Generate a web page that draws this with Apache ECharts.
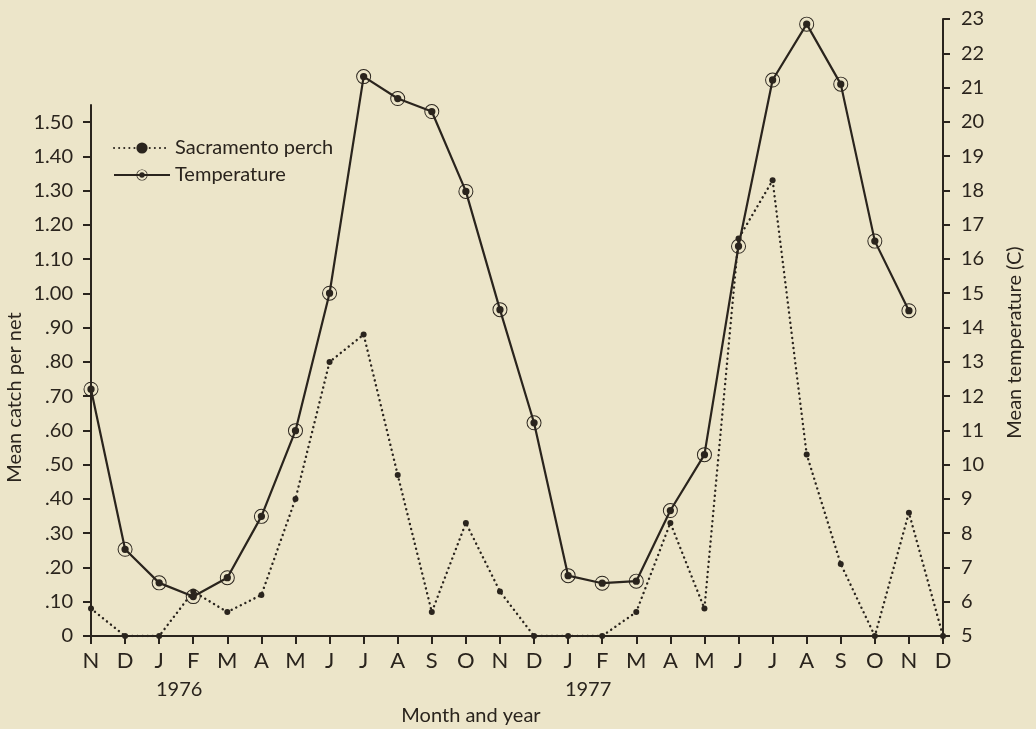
<!DOCTYPE html>
<html>
<head>
<meta charset="utf-8">
<title>Sacramento perch catch and water temperature</title>
<script src="https://cdn.jsdelivr.net/npm/echarts@6/dist/echarts.min.js"></script>
<style>
  html, body { margin: 0; padding: 0; background: #ece5c9; }
  #chart { width: 1036px; height: 729px; }
</style>
</head>
<body>
<div id="chart"></div>
<script>
// Months from November 1975 to December 1977
const months = ['N','D','J','F','M','A','M','J','J','A','S','O','N','D',
                'J','F','M','A','M','J','J','A','S','O','N','D'];
// Index of each January and the year it starts
const yearStarts = { 2: '1976', 14: '1977' };

// Mean catch per net, Sacramento perch
const perchCatch = [0.08, 0, 0, 0.13, 0.07, 0.12, 0.40, 0.80, 0.88, 0.47, 0.07, 0.33, 0.13,
                    0, 0, 0, 0.07, 0.33, 0.08, 1.16, 1.33, 0.53, 0.21, 0, 0.36, 0];

// Mean water temperature (C)
const meanTemp = [12.2, 7.53, 6.55, 6.15, 6.7, 8.49, 10.99, 15.0, 21.32, 20.68, 20.3, 17.97, 14.52,
                  11.22, 6.76, 6.54, 6.6, 8.66, 10.29, 16.37, 21.22, 22.85, 21.1, 16.52, 14.49, null];

const ink = '#2a241d';
const font = 'Lato';

// Circled dot: thin ring around a solid centre
const ringDot = 'path://M0,-7A7,7 0 1,1 0,7A7,7 0 1,1 0,-7Z' +
                'M0,-6.1A6.1,6.1 0 1,0 0,6.1A6.1,6.1 0 1,0 0,-6.1Z' +
                'M0,-3.4A3.4,3.4 0 1,1 0,3.4A3.4,3.4 0 1,1 0,-3.4Z';

const chart = echarts.init(document.getElementById('chart'));

chart.setOption({
  backgroundColor: '#ece5c9',
  textStyle: { fontFamily: font, color: ink },
  animation: false,
  legend: {
    orient: 'vertical',
    left: 108,
    top: 133,
    itemWidth: 56,
    itemHeight: 14,
    itemGap: 7,
    textStyle: { fontFamily: font, fontSize: 20, color: ink },
    data: ['Sacramento perch', 'Temperature']
  },
  grid: [
    { left: 91, right: 93, top: 19, bottom: 93, containLabel: false, outerBoundsMode: 'none' },
    { left: 91, right: 93, top: 105, bottom: 93, containLabel: false, outerBoundsMode: 'none' }
  ],
  xAxis: [
    {
      gridIndex: 0,
      type: 'category',
      data: months,
      boundaryGap: false,
      axisLine: { lineStyle: { color: ink, width: 2 } },
      axisTick: { show: true, interval: 0, length: 8, lineStyle: { color: ink, width: 2 } },
      axisLabel: {
        interval: 0,
        color: ink,
        fontFamily: font,
        fontSize: 22,
        margin: 10,
        lineHeight: 29,
        formatter: function (value, index) {
          return yearStarts[index] ? value + '\n{yr|' + yearStarts[index] + '}' : value;
        },
        rich: {
          yr: { fontFamily: font, fontSize: 20, color: ink, lineHeight: 29, padding: [0, 0, 0, 40] }
        }
      },
      name: 'Month and year',
      nameLocation: 'middle',
      nameGap: 70,
      nameMoveOverlap: false,
      nameTextStyle: { fontFamily: font, fontSize: 20, color: ink, padding: [0, 92, 0, 0] }
    },
    {
      gridIndex: 1,
      type: 'category',
      data: months,
      boundaryGap: false,
      show: false
    }
  ],
  yAxis: [
    {
      gridIndex: 0,
      type: 'value',
      position: 'right',
      min: 5,
      max: 23,
      interval: 1,
      splitLine: { show: false },
      axisLine: { show: true, lineStyle: { color: ink, width: 2 } },
      axisTick: { show: true, length: 7, lineStyle: { color: ink, width: 2 } },
      axisLabel: { color: ink, fontFamily: font, fontSize: 20, margin: 18 },
      name: 'Mean temperature (C)',
      nameLocation: 'middle',
      nameRotate: 90,
      nameGap: 62,
      nameMoveOverlap: false,
      nameTextStyle: { fontFamily: font, fontSize: 20, color: ink, padding: [0, 30, 0, 0] }
    },
    {
      gridIndex: 1,
      type: 'value',
      position: 'left',
      min: 0,
      max: 1.55,
      interval: 0.1,
      splitLine: { show: false },
      axisLine: { show: true, lineStyle: { color: ink, width: 2 } },
      axisTick: { show: true, length: 8, lineStyle: { color: ink, width: 2 } },
      axisLabel: {
        color: ink,
        fontFamily: font,
        fontSize: 20,
        margin: 18,
        showMaxLabel: false,
        formatter: function (v) {
          if (v === 0) return '0';
          const s = v.toFixed(2);
          return v < 1 ? s.slice(1) : s;
        }
      },
      name: 'Mean catch per net',
      nameLocation: 'middle',
      nameRotate: 90,
      nameGap: 66,
      nameMoveOverlap: false,
      nameTextStyle: { fontFamily: font, fontSize: 20, color: ink, padding: [0, 54, 0, 0] }
    }
  ],
  series: [
    {
      name: 'Sacramento perch',
      type: 'line',
      xAxisIndex: 1,
      yAxisIndex: 1,
      data: perchCatch,
      symbol: 'circle',
      symbolSize: 6,
      showAllSymbol: true,
      itemStyle: { color: ink },
      lineStyle: { color: ink, width: 2.4, type: [0.1, 5], cap: 'round' },
      z: 2
    },
    {
      name: 'Temperature',
      type: 'line',
      xAxisIndex: 0,
      yAxisIndex: 0,
      data: meanTemp,
      connectNulls: false,
      symbol: ringDot,
      symbolSize: 15,
      showAllSymbol: true,
      itemStyle: { color: ink },
      lineStyle: { color: ink, width: 2.2 },
      z: 3
    }
  ]
});
</script>
</body>
</html>
